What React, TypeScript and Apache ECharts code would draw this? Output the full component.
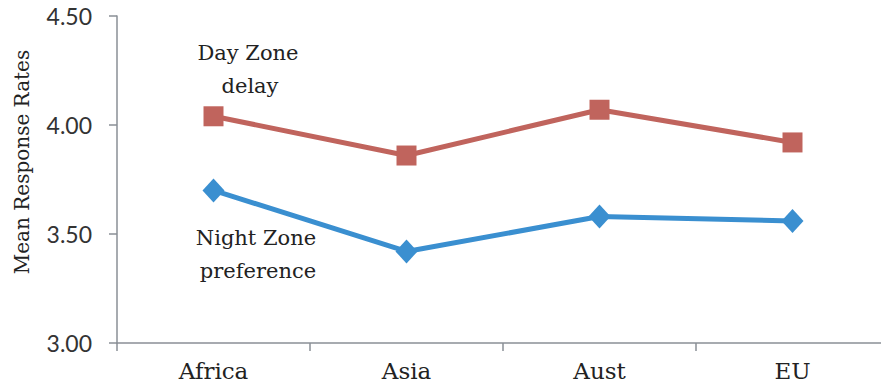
import React, { useEffect, useRef } from "react";
import * as echarts from "echarts";

const categories = ["Africa", "Asia", "Aust", "EU"];
const dayZoneDelay = [4.04, 3.86, 4.07, 3.92];
const nightZonePreference = [3.70, 3.42, 3.58, 3.56];
const yTicks = { min: 3.0, max: 4.5, interval: 0.5 };
const yAxisTitle = "Mean Response Rates";
const annotations = [
  { text: "Day Zone", x: 248, y: 53 },
  { text: "delay", x: 250, y: 86 },
  { text: "Night Zone", x: 256, y: 238 },
  { text: "preference", x: 258, y: 271 },
];

const RED = "#C0645D";
const BLUE = "#3A8FD0";
const AXIS = "#8A8F96";
const SERIF = "'DejaVu Serif', 'Liberation Serif', serif";

export default function App() {
  const ref = useRef<HTMLDivElement>(null);
  useEffect(() => {
    if (!ref.current) return;
    const chart = echarts.init(ref.current, undefined, { renderer: "svg" });
    chart.setOption({
      animation: false,
      backgroundColor: "#ffffff",
      grid: { left: 117, top: 16, width: 772, height: 327, outerBoundsMode: "none", containLabel: false },
      xAxis: {
        type: "category",
        data: categories,
        boundaryGap: true,
        axisLine: { lineStyle: { color: AXIS, width: 1.5 } },
        axisTick: { show: true, length: 8, lineStyle: { color: AXIS, width: 1.5 } },
        axisLabel: { color: "#222", fontFamily: SERIF, fontSize: 23, margin: 16 },
        splitLine: { show: false },
      },
      yAxis: {
        type: "value",
        min: yTicks.min,
        max: yTicks.max,
        interval: yTicks.interval,
        axisLine: { show: true, lineStyle: { color: AXIS, width: 1.5 } },
        axisTick: { show: true, length: 8, lineStyle: { color: AXIS, width: 1.5 } },
        axisLabel: {
          color: "#333",
          fontFamily: "Lato, 'Open Sans', sans-serif",
          fontSize: 23,
          margin: 25,
          formatter: (v: number) => v.toFixed(2),
        },
        splitLine: { show: false },
      },
      series: [
        {
          name: "Day Zone delay",
          type: "line",
          data: dayZoneDelay,
          symbol: "rect",
          symbolSize: 20,
          itemStyle: { color: RED },
          lineStyle: { color: RED, width: 5 },
        },
        {
          name: "Night Zone preference",
          type: "line",
          data: nightZonePreference,
          symbol: "diamond",
          symbolSize: [22, 24],
          itemStyle: { color: BLUE },
          lineStyle: { color: BLUE, width: 5 },
        },
      ],
      graphic: [
        {
          type: "text",
          x: 22,
          y: 162,
          rotation: Math.PI / 2,
          style: {
            text: yAxisTitle,
            align: "center",
            verticalAlign: "middle",
            font: `20px ${SERIF}`,
            fill: "#222",
          },
        },
        ...annotations.map((a) => ({
          type: "text",
          x: a.x,
          y: a.y,
          style: {
            text: a.text,
            align: "center",
            verticalAlign: "middle",
            font: `21px ${SERIF}`,
            fill: "#222",
          },
        })),
      ],
    });
    return () => chart.dispose();
  }, []);
  return (
    <div style={{ position: "fixed", left: 0, top: 0, width: 881, height: 389, background: "#fff" }}>
      <div ref={ref} style={{ width: 881, height: 389 }} />
    </div>
  );
}
